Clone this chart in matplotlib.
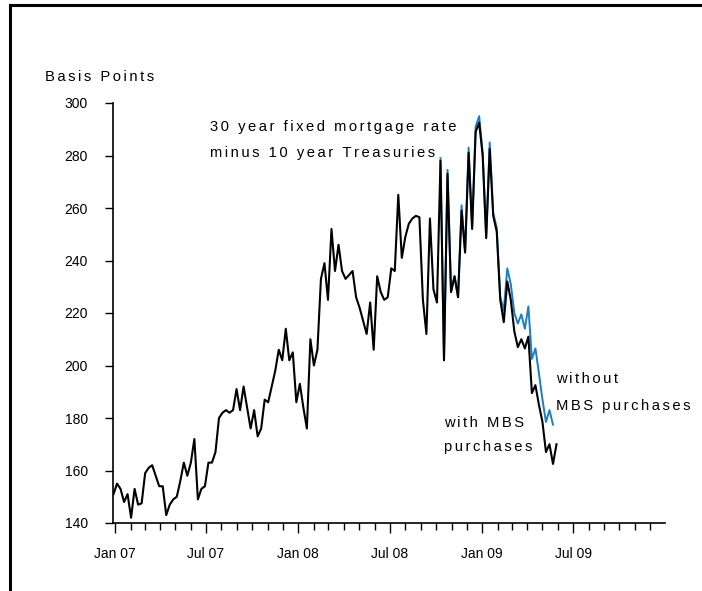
import matplotlib
matplotlib.use("Agg")
import matplotlib.pyplot as plt
import matplotlib.dates as mdates
from matplotlib import font_manager
from matplotlib.lines import Line2D
import pandas as pd

# weekly spread, basis points
with_mbs = [151, 155, 153, 148, 151, 142, 153, 147, 147.5, 159,
            161, 162, 158, 154, 154, 143, 147, 149, 150, 156,
            163, 158, 163, 172, 149, 153, 154, 163, 163, 167,
            180, 182, 183, 182, 183, 191, 183, 192, 184, 176,
            183, 173, 176, 187, 186, 192, 198, 206, 202, 214,
            202, 205, 186, 193, 184, 176, 210, 200, 206, 233,
            239, 225, 252, 236, 246, 236, 233, 234.5, 236, 226,
            222, 217, 212, 224, 206, 234, 228, 225, 226, 237,
            236, 265, 241, 249, 254, 256, 257, 256.5, 225, 212,
            256, 229, 224, 278, 202, 273, 228, 234, 226, 259,
            243, 281, 252, 289, 292.5, 280, 248.5, 282.5, 257, 251,
            225, 216.5, 232, 225, 213, 207, 210, 206.5, 211, 189.5,
            192.5, 185, 178.5, 167, 170, 162.5, 170]

# without MBS purchases, from the week it starts to split off
without_mbs = [279, 202, 274.5, 228, 234, 226, 261, 243.5, 283, 252.5,
               291, 295, 281, 249, 285, 258, 252.5, 226, 221, 237,
               231, 220, 216, 219.5, 214, 222.5, 202.5, 206.5, 197, 187,
               178.5, 183, 177.5]

dates = pd.date_range("2006-12-29", periods=len(with_mbs), freq="7D")
split_at = 93
dates_wo = dates[split_at:split_at + len(without_mbs)]

names = {f.name for f in font_manager.fontManager.ttflist}
narrow = "Liberation Sans Narrow" if "Liberation Sans Narrow" in names else "Liberation Sans"
plt.rcParams["font.family"] = ["Liberation Sans", "DejaVu Sans"]


def spaced(s):
    # letter-spaced look of the original labels
    return "\u200a\u200a".join(s)


W, H = 702, 591
fig = plt.figure(figsize=(W / 100, H / 100), dpi=100)
ax = fig.add_axes([113 / W, 1 - 523 / H, (665 - 113) / W, (523 - 103) / H])

ax.plot(dates_wo, without_mbs, color="#1a7dc8", lw=1.4, zorder=2)
ax.plot(dates, with_mbs, color="black", lw=1.5, zorder=3)

ax.set_ylim(140, 300)
ax.set_yticks(range(140, 301, 20))
ax.set_xlim(pd.Timestamp("2006-12-28"), pd.Timestamp("2009-12-31"))
ax.xaxis.set_major_locator(mdates.MonthLocator(bymonth=[1, 7]))
ax.xaxis.set_major_formatter(mdates.DateFormatter("%b %y"))
ax.xaxis.set_minor_locator(mdates.MonthLocator())

for s in ["top", "right"]:
    ax.spines[s].set_visible(False)
for s in ["left", "bottom"]:
    ax.spines[s].set_linewidth(1.2)

ax.tick_params(axis="y", length=6, width=1, pad=12, labelsize=10)
ax.tick_params(axis="x", which="major", length=7, width=1, pad=10, labelsize=10)
ax.tick_params(axis="x", which="minor", length=5, width=1)
for lab in ax.get_xticklabels() + ax.get_yticklabels():
    lab.set_fontfamily(narrow)

tkw = dict(fontsize=10.6, va="center", ha="left", color="black")
fig.text(45 / W, 1 - 77 / H, spaced("Basis Points"), **tkw)
fig.text(210 / W, 1 - 127 / H, spaced("30 year fixed mortgage rate"), **tkw)
fig.text(210 / W, 1 - 153 / H, spaced("minus 10 year Treasuries"), **tkw)
fig.text(556 / W, 1 - 379 / H, spaced("without"), **tkw)
fig.text(556 / W, 1 - 406 / H, spaced("MBS purchases"), **tkw)
fig.text(444 / W, 1 - 423 / H, spaced("with MBS"), **tkw)
fig.text(444 / W, 1 - 447 / H, spaced("purchases"), **tkw)

# frame round the panel (left and top edges only are in view)
fig.add_artist(Line2D([10 / W, 10 / W], [0, 1 - 5 / H], color="black", lw=2.2))
fig.add_artist(Line2D([10 / W, 1], [1 - 5 / H, 1 - 5 / H], color="black", lw=2.2))

fig.savefig("out.png", dpi=100)
